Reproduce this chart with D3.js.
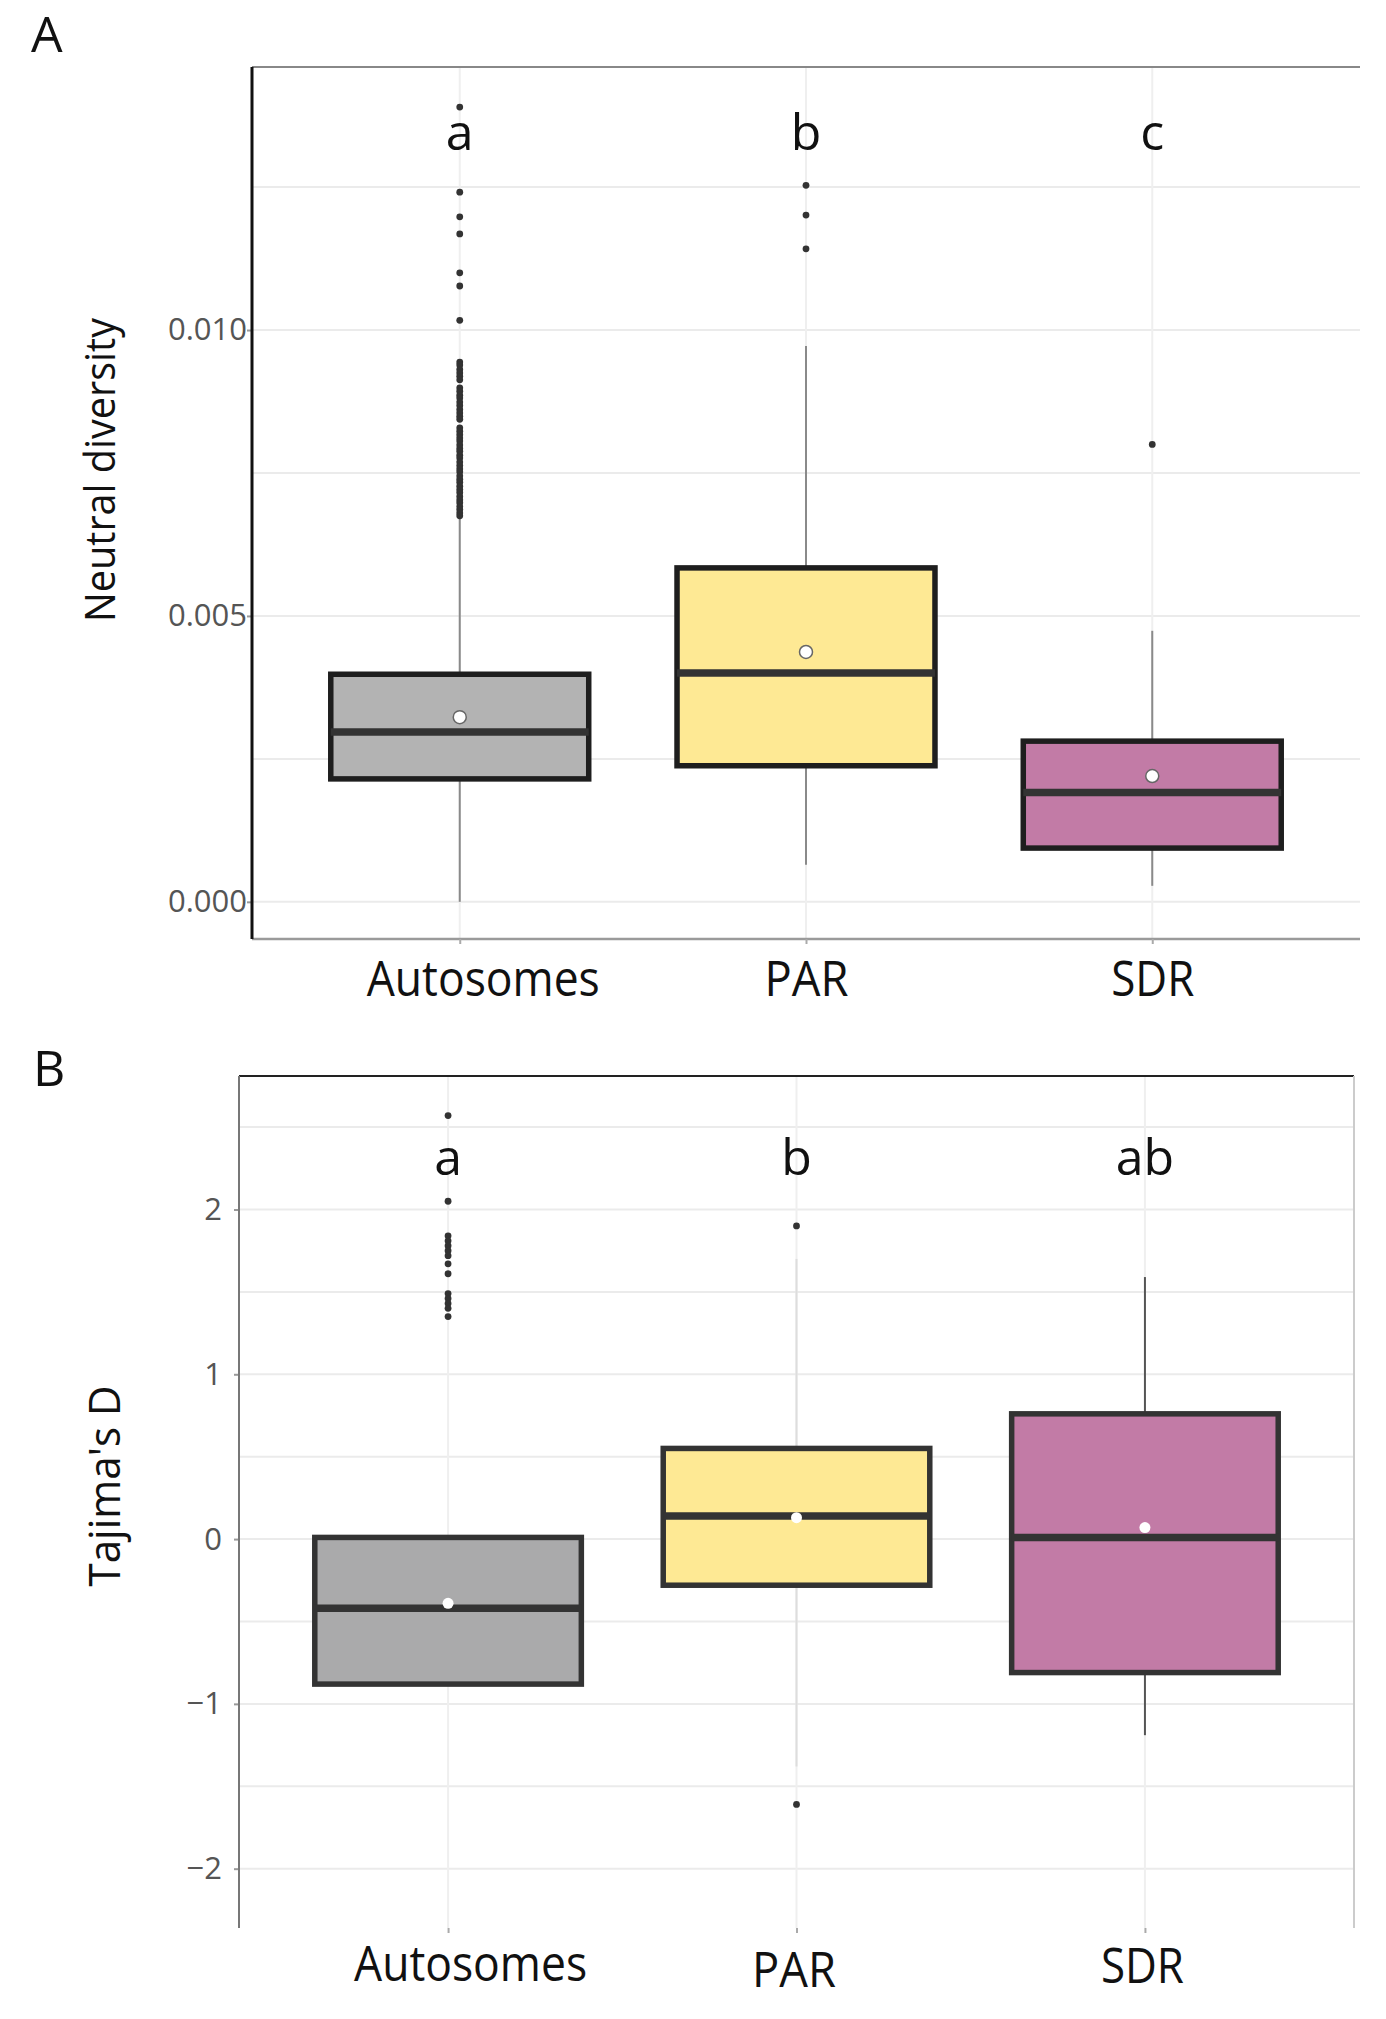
<!DOCTYPE html>
<html>
<head>
<meta charset="utf-8">
<script src="https://cdn.jsdelivr.net/npm/d3@7"></script>
<style>
  body { margin: 0; background: #fff; }
  text { font-family: "Open Sans", "Noto Sans", sans-serif; }
</style>
</head>
<body>
<svg id="fig" width="1386" height="2019"></svg>
<script>
;(function (window, document, undefined) {

  'use strict';

  // categories shared by both panels
  var categories = ['Autosomes', 'PAR', 'SDR'];

  // panel A : neutral diversity
  var diversityLower  = [0.0000, 0.00065, 0.00028];
  var diversityQ1     = [0.00215, 0.00238, 0.00094];
  var diversityMedian = [0.00297, 0.00400, 0.00191];
  var diversityQ3     = [0.00398, 0.00584, 0.00281];
  var diversityUpper  = [0.00671, 0.00972, 0.00474];
  var diversityMean   = [0.00323, 0.00437, 0.00220];
  var diversityOutliers = [
    [0.01390, 0.01241, 0.01198, 0.01168, 0.01100, 0.01077, 0.01017,
     0.00944, 0.00939, 0.00931, 0.00925, 0.00919, 0.00913, 0.00899, 0.00893,
     0.00886, 0.00881, 0.00874, 0.00868, 0.00861, 0.00855, 0.00849, 0.00844,
     0.00829, 0.00823, 0.00817, 0.00811, 0.00806, 0.00799, 0.00793, 0.00788,
     0.00781, 0.00776, 0.00769, 0.00763, 0.00757, 0.00752, 0.00745, 0.00739,
     0.00734, 0.00727, 0.00721, 0.00716, 0.00709, 0.00703, 0.00698, 0.00691,
     0.00686, 0.00680, 0.00675],
    [0.01253, 0.01201, 0.01142],
    [0.00800]
  ];
  var diversityLetters = ['a', 'b', 'c'];
  var diversityTicks = [0, 0.005, 0.010];
  var diversityGrid = [0, 0.0025, 0.005, 0.0075, 0.010, 0.0125];

  // panel B : Tajima's D
  var tajimaLower  = [null, -1.38, -1.19];
  var tajimaQ1     = [-0.88, -0.28, -0.81];
  var tajimaMedian = [-0.42, 0.14, 0.01];
  var tajimaQ3     = [0.01, 0.55, 0.76];
  var tajimaUpper  = [null, 1.70, 1.59];
  var tajimaMean   = [-0.39, 0.13, 0.07];
  var tajimaOutliers = [
    [2.57, 2.05, 1.84, 1.81, 1.78, 1.75, 1.72, 1.67, 1.61, 1.49, 1.46, 1.43, 1.40, 1.35],
    [1.90, -1.61],
    []
  ];
  var tajimaLetters = ['a', 'b', 'ab'];
  var tajimaTicks = [-2, -1, 0, 1, 2];
  var tajimaGrid = [-2, -1.5, -1, -0.5, 0, 0.5, 1, 1.5, 2, 2.5];

  var svg = d3.select('#fig');

  var _build = function (lower, q1, med, q3, upper, mean, outliers) {
    return categories.map(function (c, i) {
      return {
        cat: c, lower: lower[i], q1: q1[i], median: med[i], q3: q3[i],
        upper: upper[i], mean: mean[i], outliers: outliers[i]
      };
    });
  };

  var drawPanel = function (cfg) {
    var g = svg.append('g');

    var x = d3.scalePoint().domain(categories)
              .range([cfg.left, cfg.right]).padding(0.6);
    var y = d3.scaleLinear().domain(cfg.yDomain)
              .range([cfg.bottom, cfg.top]);
    var boxW = x.step() * cfg.boxWidth;
    var idx = function (d) { return categories.indexOf(d.cat); };

    // grid
    g.append('g').selectAll('line').data(cfg.grid).join('line')
      .attr('x1', cfg.left).attr('x2', cfg.right)
      .attr('y1', function (d) { return y(d); })
      .attr('y2', function (d) { return y(d); })
      .attr('stroke', '#ebebeb').attr('stroke-width', 2);
    g.append('g').selectAll('line').data(categories).join('line')
      .attr('x1', function (d) { return x(d); })
      .attr('x2', function (d) { return x(d); })
      .attr('y1', cfg.top).attr('y2', cfg.bottom)
      .attr('stroke', '#efefef').attr('stroke-width', 2);

    // frame lines
    g.append('line').attr('x1', cfg.left).attr('x2', cfg.right)
      .attr('y1', cfg.top).attr('y2', cfg.top)
      .attr('stroke', cfg.topColor).attr('stroke-width', 2);
    if (cfg.bottomColor) {
      g.append('line').attr('x1', cfg.left).attr('x2', cfg.right)
        .attr('y1', cfg.bottom).attr('y2', cfg.bottom)
        .attr('stroke', cfg.bottomColor).attr('stroke-width', 2.5);
    }
    if (cfg.rightColor) {
      g.append('line').attr('x1', cfg.right).attr('x2', cfg.right)
        .attr('y1', cfg.top).attr('y2', cfg.bottom)
        .attr('stroke', cfg.rightColor).attr('stroke-width', 2);
    }

    // y axis
    var yAxis = g.append('g')
      .attr('transform', 'translate(' + cfg.left + ',0)')
      .call(d3.axisLeft(y).tickValues(cfg.ticks).tickFormat(cfg.tickFormat)
              .tickSize(cfg.yTickSize).tickPadding(cfg.yTickPad));
    yAxis.select('.domain').remove();
    yAxis.append('line').attr('x1', 0).attr('x2', 0)
      .attr('y1', cfg.top).attr('y2', cfg.bottom)
      .attr('stroke', cfg.leftColor).attr('stroke-width', cfg.leftWidth);
    yAxis.selectAll('.tick line').attr('stroke', '#999').attr('stroke-width', 2);
    yAxis.selectAll('.tick text')
      .attr('fill', '#555').style('font-size', cfg.tickFont + 'px')
      .style('font-family', '"Open Sans", sans-serif');

    // x axis
    var xAxis = g.append('g')
      .attr('transform', 'translate(0,' + cfg.bottom + ')')
      .call(d3.axisBottom(x).tickSize(5).tickPadding(0));
    xAxis.select('.domain').remove();
    xAxis.selectAll('.tick line').attr('stroke', '#aaa').attr('stroke-width', 2);
    xAxis.selectAll('.tick text')
      .attr('fill', '#111').attr('dy', null)
      .attr('y', function (d, i) { return cfg.xLabelBase[i] - cfg.bottom; })
      .attr('dx', function (d, i) { return cfg.xLabelShift[i]; })
      .attr('textLength', function (d, i) { return cfg.xLabelWidth[i]; })
      .attr('lengthAdjust', 'spacingAndGlyphs')
      .style('font-size', '50px')
      .style('font-family', '"Open Sans", sans-serif');

    var boxes = g.append('g').selectAll('g').data(cfg.data).join('g');

    // whiskers
    boxes.filter(function (d) { return d.upper !== null; })
      .append('line')
      .attr('x1', function (d) { return x(d.cat); })
      .attr('x2', function (d) { return x(d.cat); })
      .attr('y1', function (d) { return y(d.upper); })
      .attr('y2', function (d) { return y(d.q3); })
      .attr('stroke', function (d) { return cfg.whiskerColor[idx(d)]; })
      .attr('stroke-width', 2);
    boxes.filter(function (d) { return d.lower !== null; })
      .append('line')
      .attr('x1', function (d) { return x(d.cat); })
      .attr('x2', function (d) { return x(d.cat); })
      .attr('y1', function (d) { return y(d.lower); })
      .attr('y2', function (d) { return y(d.q1); })
      .attr('stroke', function (d) { return cfg.whiskerColor[idx(d)]; })
      .attr('stroke-width', 2);

    // outliers
    boxes.selectAll('circle.out')
      .data(function (d) { return d.outliers.map(function (v) { return { cat: d.cat, v: v }; }); })
      .join('circle')
      .attr('class', 'out')
      .attr('cx', function (d) { return x(d.cat); })
      .attr('cy', function (d) { return y(d.v); })
      .attr('r', 3.4)
      .attr('fill', '#333');

    // box
    boxes.append('rect')
      .attr('x', function (d) { return x(d.cat) - boxW / 2; })
      .attr('width', boxW)
      .attr('y', function (d) { return y(d.q3); })
      .attr('height', function (d) { return y(d.q1) - y(d.q3); })
      .attr('fill', function (d) { return cfg.fills[idx(d)]; })
      .attr('stroke', cfg.boxStroke)
      .attr('stroke-width', 5.5);

    // median
    boxes.append('line')
      .attr('x1', function (d) { return x(d.cat) - boxW / 2; })
      .attr('x2', function (d) { return x(d.cat) + boxW / 2; })
      .attr('y1', function (d) { return y(d.median); })
      .attr('y2', function (d) { return y(d.median); })
      .attr('stroke', '#333').attr('stroke-width', 7.5);

    // mean
    boxes.append('circle')
      .attr('cx', function (d) { return x(d.cat); })
      .attr('cy', function (d) { return y(d.mean); })
      .attr('r', cfg.meanR)
      .attr('fill', '#fff')
      .attr('stroke', cfg.meanStroke)
      .attr('stroke-width', 1.5);

    // significance letters
    g.append('g').selectAll('text').data(cfg.letters).join('text')
      .attr('x', function (d, i) { return x(categories[i]); })
      .attr('y', cfg.letterBase)
      .attr('text-anchor', 'middle')
      .attr('fill', '#111')
      .style('font-size', '50px')
      .text(function (d) { return d; });

    // y title
    g.append('text')
      .attr('transform', 'translate(' + cfg.titleX + ',' + cfg.titleY + ') rotate(-90)')
      .attr('text-anchor', 'middle')
      .attr('fill', '#111')
      .attr('textLength', cfg.titleLen)
      .attr('lengthAdjust', 'spacingAndGlyphs')
      .style('font-size', cfg.titleFont + 'px')
      .text(cfg.title);

    // panel label
    g.append('text')
      .attr('x', cfg.panelX).attr('y', cfg.panelY)
      .attr('fill', '#111')
      .style('font-size', '50px')
      .style('font-weight', 500)
      .text(cfg.panel);
  };

  drawPanel({
    panel: 'A', panelX: 31, panelY: 52,
    title: 'Neutral diversity', titleX: 115, titleY: 470, titleLen: 304, titleFont: 42,
    data: _build(diversityLower, diversityQ1, diversityMedian, diversityQ3,
                 diversityUpper, diversityMean, diversityOutliers),
    letters: diversityLetters, letterBase: 150,
    left: 252, right: 1360, top: 67, bottom: 939,
    yDomain: [-0.00065, 0.0146],
    ticks: diversityTicks, grid: diversityGrid, tickFormat: d3.format('.3f'),
    tickFont: 31, yTickSize: 5, yTickPad: 0,
    boxWidth: 0.745,
    fills: ['#b3b3b3', '#fee994', '#c27ba6'],
    boxStroke: '#1e1e1e',
    whiskerColor: ['#8a8a8a', '#8a8a8a', '#8a8a8a'],
    meanR: 6.5, meanStroke: '#666',
    topColor: '#888', bottomColor: '#9a9a9a', rightColor: null,
    leftColor: '#111', leftWidth: 3,
    xLabelBase: [996, 996, 996], xLabelShift: [23, 0, 0], xLabelWidth: [233, 84, 83]
  });

  drawPanel({
    panel: 'B', panelX: 33, panelY: 1086,
    title: "Tajima's D", titleX: 120, titleY: 1486, titleLen: 201, titleFont: 44,
    data: _build(tajimaLower, tajimaQ1, tajimaMedian, tajimaQ3,
                 tajimaUpper, tajimaMean, tajimaOutliers),
    letters: tajimaLetters, letterBase: 1175,
    left: 239, right: 1354, top: 1076, bottom: 1928,
    yDomain: [-2.36, 2.81],
    ticks: tajimaTicks, grid: tajimaGrid, tickFormat: d3.format('d'),
    tickFont: 31, yTickSize: 5, yTickPad: 12,
    boxWidth: 0.765,
    fills: ['#aaaaab', '#fee994', '#c27ba6'],
    boxStroke: '#333',
    whiskerColor: ['none', '#dddddd', '#555'],
    meanR: 5.5, meanStroke: 'none',
    topColor: '#222', bottomColor: null, rightColor: '#cccccc',
    leftColor: '#777', leftWidth: 2,
    xLabelBase: [1981, 1987, 1983], xLabelShift: [22, -3, -3], xLabelWidth: [233, 84, 83]
  });

})(window, document);
</script>
</body>
</html>
